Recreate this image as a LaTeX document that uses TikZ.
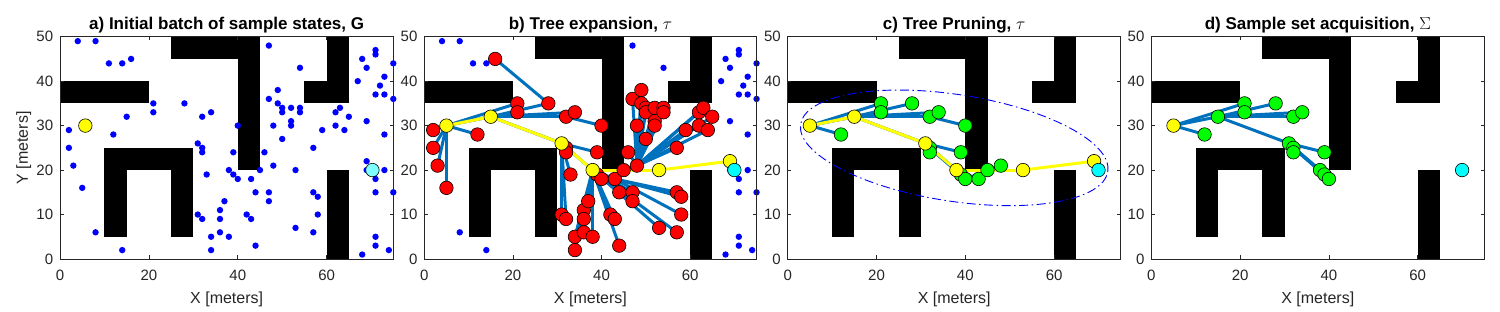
\documentclass[tikz,border=0pt]{standalone}
\usepackage{fontspec}
\setmainfont{Liberation Sans}
\pgfdeclarelayer{bgl}
\pgfdeclarelayer{obs}
\pgfdeclarelayer{edges}
\pgfdeclarelayer{ypath}
\pgfsetlayers{bgl,obs,edges,ypath,main}
\definecolor{axg}{HTML}{262626}
\definecolor{eblue}{HTML}{0072BD}
\definecolor{pblue}{RGB}{0,0,255}
\definecolor{lcyan}{RGB}{128,255,255}
\definecolor{gcol}{RGB}{0,255,0}
\definecolor{ycol}{RGB}{255,255,0}
\definecolor{ccol}{RGB}{0,255,255}
\definecolor{rcol}{RGB}{255,0,0}
\tikzset{
  axline/.style={draw=axg, line width=0.6pt},
  ticklab/.style={text=axg, inner sep=0pt, font=\fontsize{15}{18}\selectfont},
  axlab/.style={text=axg, inner sep=0pt, font=\fontsize{16}{19}\selectfont},
  ttl/.style={text=black, inner sep=0pt, font=\fontsize{17}{20}\selectfont\bfseries},
  obst/.style={fill=black},
  sdot/.style={fill=pblue},
  tnode/.style={circle, draw=black, line width=0.6pt, minimum size=13.5pt, inner sep=0pt},
  rn/.style={tnode, fill=rcol},
  gn/.style={tnode, fill=gcol},
  yn/.style={tnode, fill=ycol},
  cn/.style={tnode, fill=ccol},
  lcn/.style={tnode, fill=lcyan},
  tedge/.style={draw=eblue, line width=3pt},
  ypth/.style={draw=ycol, line width=3pt},
  ell/.style={draw=pblue, line width=0.9pt, dash pattern=on 9pt off 3.5pt on 1.5pt off 3.5pt},
}
\newcommand{\drawobst}{%
  \fill[obst] (0,35) rectangle (20,40);
  \fill[obst] (25,45) rectangle (45,50);
  \fill[obst] (40,20) rectangle (45,45);
  \fill[obst] (55,35) rectangle (65,40);
  \fill[obst] (60,40) rectangle (65,50);
  \fill[obst] (60,0) rectangle (65,20);
  \fill[obst] (10,20) rectangle (30,25);
  \fill[obst] (10,5) rectangle (15,20);
  \fill[obst] (25,5) rectangle (30,20);
}
\newcommand{\panelframe}[2]{%
  \draw[axline] (0,0) rectangle (75,50);
  \foreach \t in {0,20,40,60}{
    \draw[axline] (\t,0) -- ++(0,3.5pt);
    \draw[axline] (\t,50) -- ++(0,-3.5pt);
    \node[ticklab, anchor=base, yshift=-21.4pt] (#1-xt\t) at (\t,0) {\t};
  }
  \foreach \t in {0,10,20,30,40,50}{
    \draw[axline] (0,\t) -- ++(3.5pt,0);
    \draw[axline] (75,\t) -- ++(-3.5pt,0);
    \node[ticklab, anchor=east, xshift=-6.7pt] (#1-yt\t) at (0,\t) {\t};
  }
  \node[axlab, anchor=base, yshift=-45pt] (#1-xlab) at (37.5,0) {X [meters]};
  \node[ttl, anchor=base, yshift=6.7pt] (#1-title) at (37.5,50) {#2};
}
\begin{document}
\begin{tikzpicture}[x=1pt,y=1pt]
\useasboundingbox (0,0) rectangle (1500,312);
\begin{pgfonlayer}{bgl}\fill[white] (0,0) rectangle (1500,312);\end{pgfonlayer}

% ---------------- panel a ----------------
\begin{scope}[shift={(60pt,53pt)}, x=4.444pt, y=4.446pt]
  \begin{pgfonlayer}{obs}\drawobst\end{pgfonlayer}
  \foreach \x/\y in {4/49,8/49,11/44,14/44,16/45,2/29,2/25,3/21,5/16,8/6,14/2,12/28,15/32,21/35,21/33,28/35,32/32,34/33,31/26,32/25,32/24,33/19,31/10,32/9,34/5,34/2,36/6,36/9,36/11,37/13,38/5,38/20,39/19,40/18,39/24,40/30,42/10,43/9,43/18,44/15,44/3,45/20,46/24,47/48,47/36,47/15,47/13,48/21,48/30,49/38,49/35,50/34,50/33,50/27,52/34,52/31,52/30,53/20,53/7,54/43,54/34,54/33,57/25,57/15,58/14,58/10,57/6,59/29,62/33,63/34,62/30,64/29,65/32,67/40,68/45,69/43,69/31,69/22,69/20,68/1,71/47,71/46,71/37,72/39,71/18,71/15,71/5,71/3,73/41,73/37,73/28,73/20,75/44,75/36,75/15,74/2}
    \fill[sdot] (\x,\y) circle[radius=3.2pt];
  \node[yn] (a-start) at (5.7,30) {};
  \node[lcn] (a-goal) at (70.3,20) {};
  \panelframe{a}{a) Initial batch of sample states, G}
\end{scope}
\node[axlab, rotate=90, anchor=base] (a-ylab) at (28,164) {Y [meters]};

% ---------------- panel b ----------------
\begin{scope}[shift={(424.3pt,53pt)}, x=4.43pt, y=4.446pt]
  \begin{pgfonlayer}{obs}\drawobst\end{pgfonlayer}
  \foreach \x/\y in {4/49,8/49,11/44,14/44,8/6,14/2,47/48,54/43,67/40,68/45,69/43,69/31,68/1,71/47,71/46,71/37,72/39,71/18,71/15,71/5,71/3,73/41,73/37,73/28,73/20,75/44,75/36,75/15,74/2,69/20}
    \fill[sdot] (\x,\y) circle[radius=3.2pt];
  \foreach \x/\y in {2/29,2/25,3/21,5/16,12/28,21/35,21/33,28/35,32/32,34/33,16/45,40/30,32/25,32/24,39/24,33/19,31/10,32/9,36/11,36/9,34/5,34/2,36/6,37/13,38/5,42/10,43/9,44/3,43/18,44/15,45/20,47/15,47/13,53/7,57/6,39/19,40/18,57/15,58/14,58/10,48/21,46/24,47/36,48/30,49/38,49/35,50/34,50/33,50/27,52/34,52/31,52/30,54/34,54/33,57/25,59/29,62/33,63/34,62/30,64/29,65/32}
    \node[rn] (b-\x-\y) at (\x,\y) {};
  \foreach \x/\y in {5/30,15/32,31/26,38/20,53/20,69/22}
    \node[yn] (b-\x-\y) at (\x,\y) {};
  \node[cn] (b-goal) at (70,20) {};
  \begin{pgfonlayer}{edges}
  \foreach \p/\c in {5-30/2-29,5-30/2-25,5-30/3-21,5-30/5-16,5-30/12-28,5-30/21-35,5-30/15-32,15-32/21-33,15-32/28-35,15-32/32-32,15-32/34-33,15-32/31-26,28-35/16-45,32-32/40-30,31-26/32-25,31-26/32-24,31-26/39-24,31-26/33-19,31-26/31-10,31-26/32-9,31-26/38-20,38-20/36-11,38-20/36-9,38-20/34-5,38-20/34-2,38-20/36-6,38-20/37-13,38-20/38-5,38-20/42-10,38-20/43-9,38-20/44-3,38-20/43-18,38-20/44-15,38-20/45-20,38-20/47-15,38-20/47-13,38-20/53-7,38-20/57-6,38-20/39-19,38-20/40-18,43-18/57-15,43-18/58-14,43-18/58-10,45-20/48-21,48-21/46-24,48-21/47-36,48-21/48-30,48-21/49-38,48-21/49-35,48-21/50-34,48-21/50-33,48-21/50-27,48-21/52-34,48-21/52-31,48-21/52-30,48-21/54-34,48-21/54-33,48-21/57-25,48-21/59-29,48-21/62-33,48-21/63-34,48-21/62-30,48-21/64-29,48-21/65-32}
    \draw[tedge] (b-\p.center) -- (b-\c.center);
  \end{pgfonlayer}
  \begin{pgfonlayer}{ypath}
  \foreach \p/\c in {5-30/15-32,15-32/31-26,31-26/38-20,38-20/53-20,53-20/69-22}
    \draw[ypth] (b-\p.center) -- (b-\c.center);
  \end{pgfonlayer}
  \panelframe{b}{b) Tree expansion, $\tau$}
\end{scope}

% ---------------- panel c ----------------
\begin{scope}[shift={(787.7pt,53pt)}, x=4.44pt, y=4.446pt]
  \begin{pgfonlayer}{obs}\drawobst\end{pgfonlayer}
  \foreach \x/\y in {12/28,21/35,21/33,28/35,32/32,34/33,40/30,32/25,32/24,39/24,39/19,40/18,43/18,45/20,48/21}
    \node[gn] (c-\x-\y) at (\x,\y) {};
  \foreach \x/\y in {5/30,15/32,31/26,38/20,53/20,69/22}
    \node[yn] (c-\x-\y) at (\x,\y) {};
  \node[cn] (c-goal) at (70,20) {};
  \begin{pgfonlayer}{edges}
  \draw[ell, rotate around={-8.75:(37.5,25)}] (37.5,25) ellipse [x radius=35, y radius=12];
  \foreach \p/\c in {5-30/21-35,5-30/12-28,5-30/15-32,15-32/21-33,15-32/28-35,15-32/32-32,15-32/34-33,15-32/31-26,32-32/40-30,31-26/32-25,31-26/32-24,31-26/39-24,31-26/38-20,32-25/39-19,32-25/40-18,38-20/43-18,38-20/45-20,45-20/48-21}
    \draw[tedge] (c-\p.center) -- (c-\c.center);
  \end{pgfonlayer}
  \begin{pgfonlayer}{ypath}
  \foreach \p/\c in {5-30/15-32,15-32/31-26,31-26/38-20,38-20/53-20,53-20/69-22}
    \draw[ypth] (c-\p.center) -- (c-\c.center);
  \end{pgfonlayer}
  \panelframe{c}{c) Tree Pruning, $\tau$}
\end{scope}

% ---------------- panel d ----------------
\begin{scope}[shift={(1151.3pt,53pt)}, x=4.44pt, y=4.446pt]
  \begin{pgfonlayer}{obs}\drawobst\end{pgfonlayer}
  \foreach \x/\y in {15/32,12/28,21/35,21/33,28/35,32/32,34/33,31/26,32/25,32/24,39/24,38/20,39/19,40/18}
    \node[gn] (d-\x-\y) at (\x,\y) {};
  \node[yn] (d-5-30) at (5,30) {};
  \node[cn] (d-goal) at (70,20) {};
  \begin{pgfonlayer}{edges}
  \foreach \p/\c in {5-30/15-32,5-30/12-28,5-30/21-35,15-32/21-33,15-32/28-35,15-32/32-32,15-32/34-33,15-32/31-26,31-26/32-25,31-26/32-24,31-26/39-24,31-26/38-20,32-25/39-19,32-25/40-18}
    \draw[tedge] (d-\p.center) -- (d-\c.center);
  \end{pgfonlayer}
  \panelframe{d}{d) Sample set acquisition, $\Sigma$}
\end{scope}
\end{tikzpicture}
\end{document}
